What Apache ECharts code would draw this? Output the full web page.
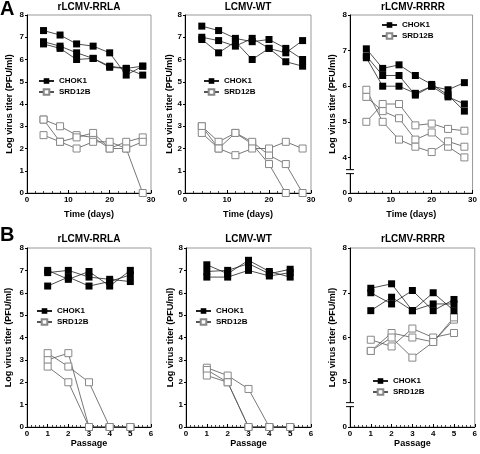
<!DOCTYPE html>
<html><head><meta charset="utf-8">
<script src="https://cdn.jsdelivr.net/npm/echarts@6/dist/echarts.min.js"></script>
<style>html,body{margin:0;padding:0;background:#fff}#c{width:480px;height:454px}</style>
</head><body><div id="c"></div>
<script>
// ---- data ----
const days = [4, 8, 12, 16, 20, 24, 28];
const passages = [1, 2, 3, 4, 5];
const panelTitles = ['rLCMV-RRLA', 'LCMV-WT', 'rLCMV-RRRR', 'rLCMV-RRLA', 'LCMV-WT', 'rLCMV-RRRR'];
const xTickLabelsA = ['0', '10', '20', '30'];
const xTickLabelsB = ['0', '1', '2', '3', '4', '5', '6'];

// Panel A: time course (log titer)
const a1_chok1 = [
  [7.3, 7.1, 6.7, 6.6, 6.3, 5.3, 5.7],
  [6.8, 6.6, 6.3, 6.05, 5.7, 5.6, 5.3],
  [6.7, 6.5, 6.0, 6.05, 5.65, 5.6, 5.7]
];
const a1_srd = [
  [3.3, 3.0, 2.6, 2.5, 2.0, 2.0, 0],
  [3.3, 2.3, 2.5, 2.7, 2.0, 2.3, 2.5],
  [2.6, 2.3, 2.0, 2.3, 2.3, 2.0, 2.3]
];
const a2_chok1 = [
  [7.5, 7.3, 6.95, 6.8, 6.9, 6.5, 6.0],
  [7.0, 6.85, 6.6, 6.95, 6.5, 6.3, 6.85],
  [6.9, 6.3, 6.8, 6.0, 6.5, 5.9, 5.7]
];
const a2_srd = [
  [3.0, 2.3, 2.7, 2.2, 1.3, 0, null],
  [3.0, 2.0, 2.7, 2.3, 1.7, 1.3, 0],
  [2.7, 2.0, 1.7, 2.0, 2.0, 2.3, 2.0]
];
const a3_chok1 = [
  [7.05, 6.5, 6.6, 6.3, 6.05, 5.75, 5.3],
  [6.85, 6.3, 6.3, 5.75, 6.0, 5.9, 6.1],
  [6.8, 6.0, 6.0, 5.8, 6.0, 5.7, 5.5]
];
const a3_srd = [
  [5.0, 5.5, 5.5, 4.9, 4.95, 4.8, 4.75],
  [5.7, 5.3, 5.1, 4.5, 4.7, 4.3, 4.0],
  [5.9, 5.0, 4.5, 4.3, 4.15, 4.45, 4.3]
];
// Panel B: serial passage
const b1_chok1 = [
  [7.0, 6.6, 6.95, 6.3, 7.0],
  [6.9, 7.0, 6.7, 6.6, 6.5],
  [6.3, 6.7, 6.3, 6.5, 6.8]
];
const b1_srd = [
  [3.0, 3.3, 0, 0, 0],
  [3.3, 2.7, 2.0, 0, 0],
  [2.7, 2.0, 0, 0, 0]
];
const b2_chok1 = [
  [7.25, 6.85, 7.45, 6.95, 6.7],
  [6.95, 7.0, 7.3, 6.85, 7.05],
  [6.7, 6.7, 7.0, 6.75, 6.9]
];
const b2_srd = [
  [2.65, 2.3, 1.7, 0, 0],
  [2.55, 2.0, 0, 0, 0],
  [2.3, 2.0, 0, 0, 0]
];
const b3_chok1 = [
  [7.1, 7.2, 6.6, 7.0, 6.6],
  [7.0, 6.75, 7.05, 6.6, 6.85],
  [6.6, 6.9, 6.6, 6.75, 6.75]
];
const b3_srd = [
  [5.95, 5.8, 6.2, 6.0, 6.1],
  [5.7, 6.1, 6.0, 5.9, 6.4],
  [5.7, 6.0, 5.55, 5.9, 6.45]
];

// ---- layout ----
const FONT = 'Liberation Sans, Arial, sans-serif';
const grids = [
  {left: 27, top: 15, width: 124, height: 178},
  {left: 185, top: 15, width: 126, height: 178},
  {left: 350, top: 15, width: 126, height: 178},
  {left: 27, top: 248, width: 124, height: 179},
  {left: 186, top: 248, width: 125, height: 179},
  {left: 350, top: 248, width: 126, height: 179}
];
const yNameGaps = [13, 7, 13, 14, 7, 13];
const legendPos = [
  {left: 38, top: 77}, {left: 203, top: 77}, {left: 381, top: 21},
  {left: 36, top: 307}, {left: 195, top: 307}, {left: 372, top: 377}
];
const yMins = [0, 0, 3, 0, 0, 4];
const breaks = [null, null, 3.6, null, null, 4.5];

const panels = [
  {x: days, chok: a1_chok1, srd: a1_srd},
  {x: days, chok: a2_chok1, srd: a2_srd},
  {x: days, chok: a3_chok1, srd: a3_srd},
  {x: passages, chok: b1_chok1, srd: b1_srd},
  {x: passages, chok: b2_chok1, srd: b2_srd},
  {x: passages, chok: b3_chok1, srd: b3_srd}
];

const option = {
  animation: false,
  backgroundColor: '#fff',
  textStyle: {fontFamily: FONT},
  title: [], grid: [], xAxis: [], yAxis: [], legend: [], series: [],
  graphic: []
};

panels.forEach((p, i) => {
  const g = grids[i];
  const isA = i < 3;
  option.grid.push(Object.assign({show: true, borderColor: '#999', borderWidth: 1, containLabel: false}, g));
  option.title.push({
    text: panelTitles[i],
    left: g.left + g.width / 2, top: isA ? 2 : 234,
    textAlign: 'center', padding: 0,
    textStyle: {fontSize: 10, fontWeight: 'bold', fontFamily: FONT, color: '#000'}
  });
  const xLabels = isA ? xTickLabelsA : xTickLabelsB;
  option.xAxis.push({
    type: 'value', gridIndex: i,
    min: 0, max: isA ? 30 : 6, interval: isA ? 10 : 1,
    name: isA ? 'Time (days)' : 'Passage',
    nameLocation: 'middle', nameGap: isA ? 17 : 12,
    nameTextStyle: {fontSize: 9, fontWeight: 'bold', color: '#000', fontFamily: FONT},
    axisLine: {lineStyle: {color: '#000', width: 1}},
    axisTick: {show: true, inside: true, length: 3, lineStyle: {color: '#000'}},
    minorTick: {show: true, splitNumber: 5, length: 2, lineStyle: {color: '#444'}},
    splitLine: {show: false},
    axisLabel: {fontSize: 8, fontWeight: 'bold', color: '#000', margin: 3, fontFamily: FONT,
      formatter: v => xLabels[Math.round(v / (isA ? 10 : 1))]}
  });
  const ymin = yMins[i];
  option.yAxis.push({
    type: 'value', gridIndex: i,
    min: ymin, max: 8, interval: 1,
    name: 'Log virus titer (PFU/ml)',
    nameLocation: 'middle', nameGap: yNameGaps[i],
    nameTextStyle: {fontSize: 9, fontWeight: 'bold', color: '#000', fontFamily: FONT},
    axisLine: {show: true, lineStyle: {color: '#000', width: 1}},
    axisTick: {show: true, inside: false, length: 2, lineStyle: {color: '#000'}},
    splitLine: {show: false},
    axisLabel: {fontSize: 8, fontWeight: 'bold', color: '#000', margin: 3, fontFamily: FONT,
      formatter: v => (v === ymin ? '0' : String(v))}
  });
  option.legend.push({
    orient: 'vertical', left: legendPos[i].left, top: legendPos[i].top,
    padding: 0,
    itemWidth: 15, itemHeight: 7, itemGap: 3,
    textStyle: {fontSize: 8, fontWeight: 'bold', color: '#000', fontFamily: FONT},
    data: ['CHOK1', 'SRD12B'],
    selectedMode: false
  });
  p.srd.forEach(vals => {
    option.series.push({
      name: 'SRD12B', type: 'line', xAxisIndex: i, yAxisIndex: i,
      data: p.x.map((x, k) => [x, vals[k]]),
      symbol: 'rect', symbolSize: 7,
      itemStyle: {color: '#fff', borderColor: '#888', borderWidth: 1},
      lineStyle: {color: '#555', width: 0.8}, z: 2
    });
  });
  p.chok.forEach(vals => {
    option.series.push({
      name: 'CHOK1', type: 'line', xAxisIndex: i, yAxisIndex: i,
      data: p.x.map((x, k) => [x, vals[k]]),
      symbol: 'rect', symbolSize: 7,
      itemStyle: {color: '#000', borderColor: '#000', borderWidth: 0},
      lineStyle: {color: '#222', width: 0.8}, z: 3
    });
  });
});

option.graphic.push(
  {type: 'text', left: 0, top: -1, style: {text: 'A', font: 'bold 20px ' + FONT, fill: '#000'}},
  {type: 'text', left: 0, top: 225, style: {text: 'B', font: 'bold 20px ' + FONT, fill: '#000'}}
);

const chart = echarts.init(document.getElementById('c'), null, {renderer: 'canvas'});
chart.setOption(option);

// axis break marks
const extra = [];
breaks.forEach((bv, i) => {
  if (bv == null) return;
  const x = chart.convertToPixel({xAxisIndex: i}, 0);
  const y = chart.convertToPixel({yAxisIndex: i}, bv);
  extra.push(
    {type: 'rect', shape: {x: x - 4, y: y - 2, width: 8, height: 4}, style: {fill: '#fff'}, z: 100},
    {type: 'line', shape: {x1: x - 4, y1: y - 2, x2: x + 4, y2: y - 2}, style: {stroke: '#000', lineWidth: 1}, z: 101},
    {type: 'line', shape: {x1: x - 4, y1: y + 2, x2: x + 4, y2: y + 2}, style: {stroke: '#000', lineWidth: 1}, z: 101}
  );
});
chart.setOption({graphic: option.graphic.concat(extra)});
</script>
</body></html>
